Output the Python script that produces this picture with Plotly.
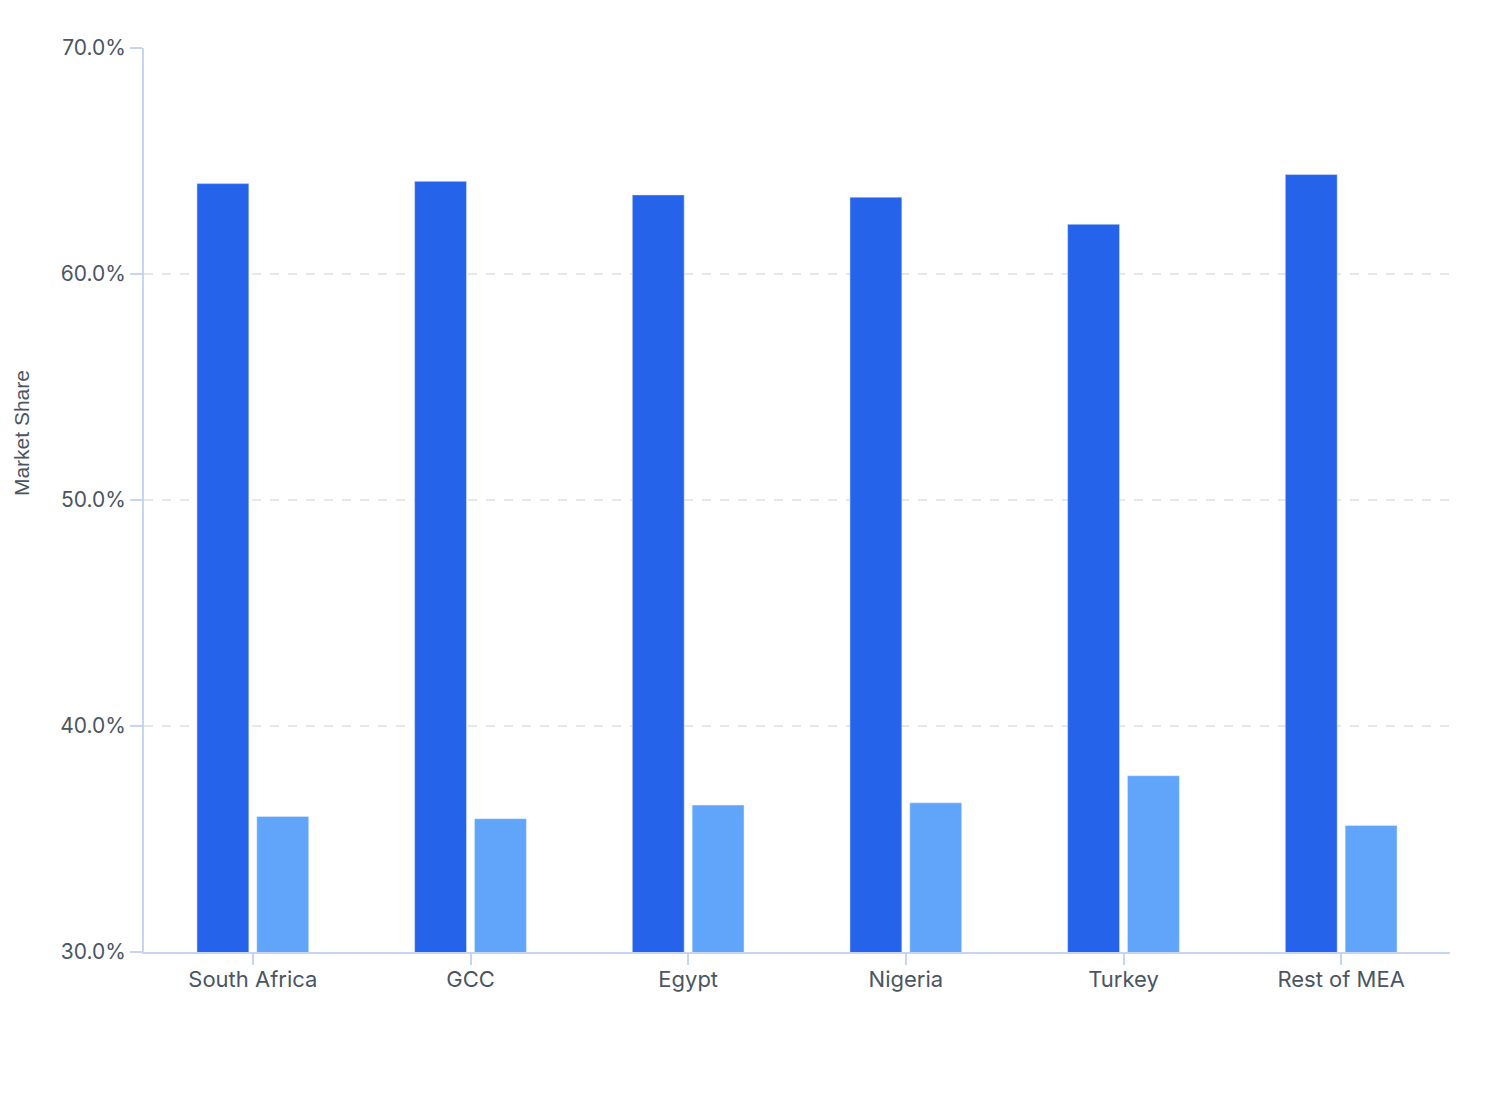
import plotly.graph_objects as go

categories = ["South Africa", "GCC", "Egypt", "Nigeria", "Turkey", "Rest of MEA"]
series_a = [64.0, 64.1, 63.5, 63.4, 62.2, 64.4]
series_b = [36.0, 35.9, 36.5, 36.6, 37.8, 35.6]
y_ticks = [30, 40, 50, 60, 70]
y_tick_labels = [f"{v:.1f}%" for v in y_ticks]

fig = go.Figure()
fig.add_trace(go.Bar(x=categories, y=series_a, marker_color="#2563eb", name="A"))
fig.add_trace(go.Bar(x=categories, y=series_b, marker_color="#60a5fa", name="B"))

axis_col = "#c7d5f5"
fig.update_layout(
    width=1492, height=1104,
    margin=dict(l=136, r=50, t=40, b=160),
    paper_bgcolor="white", plot_bgcolor="white",
    barmode="group", bargap=0.45, bargroupgap=0.133,
    showlegend=False,
    font=dict(family="Inter", size=21, color="#4b5563"),
)
fig.update_xaxes(
    showline=True, linecolor=axis_col, linewidth=2,
    ticks="outside", ticklen=11, tickwidth=2, tickcolor=axis_col,
    showgrid=False, tickfont=dict(family="Inter", size=22, color="#4b5563"),
    ticklabelstandoff=-4,
)
fig.update_yaxes(
    range=[30, 70], tickvals=y_ticks, ticktext=y_tick_labels,
    showline=True, linecolor=axis_col, linewidth=2,
    ticks="outside", ticklen=12, tickwidth=2, tickcolor=axis_col,
    showgrid=True, gridcolor="#e5e7eb", griddash="dash", gridwidth=1.5,
    zeroline=False, tickfont=dict(family="Inter", size=21, color="#4b5563"),
)
fig.add_annotation(
    text="Market Share", textangle=-90, xref="paper", yref="paper",
    x=0, y=0.574, xshift=-123, xanchor="center", yanchor="middle",
    showarrow=False, borderpad=0,
    font=dict(family="Liberation Sans", size=21, color="#4b5563"),
)
fig.write_html("out.html")
